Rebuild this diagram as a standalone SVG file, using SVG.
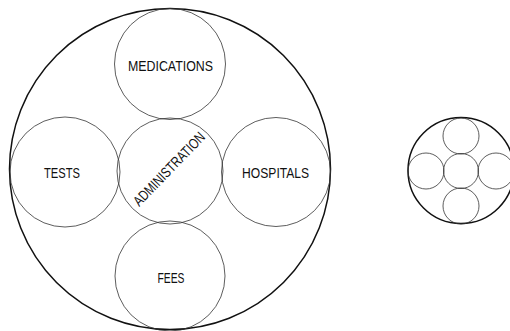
<svg xmlns="http://www.w3.org/2000/svg" width="510" height="331" viewBox="0 0 510 331">
<style>
.outer{fill:none;stroke:#111;stroke-width:1.5}
.inner{fill:none;stroke:#333;stroke-width:0.8}
.lbl{font-family:"Liberation Sans Narrow","Liberation Sans",Arial,sans-serif;font-size:14.5px;fill:#111;text-anchor:middle}
</style>
<rect width="510" height="331" fill="#fff"/>
<g id="main-diagram">
  <g id="outer"><circle class="outer" cx="170" cy="169" r="160.5"/></g>
  <g id="medications"><circle class="inner" cx="170" cy="64" r="55.5"/>
    <text class="lbl" x="170.5" y="71" textLength="85" lengthAdjust="spacingAndGlyphs">MEDICATIONS</text></g>
  <g id="tests"><circle class="inner" cx="65" cy="172" r="55"/>
    <text class="lbl" x="62" y="178.3" textLength="36" lengthAdjust="spacingAndGlyphs">TESTS</text></g>
  <g id="hospitals"><circle class="inner" cx="276" cy="172" r="54.5"/>
    <text class="lbl" x="275.6" y="178.3" textLength="67" lengthAdjust="spacingAndGlyphs">HOSPITALS</text></g>
  <g id="fees"><circle class="inner" cx="170" cy="276" r="55"/>
    <text class="lbl" x="171" y="283.3" textLength="27" lengthAdjust="spacingAndGlyphs">FEES</text></g>
  <g id="administration"><circle class="inner" cx="170" cy="171" r="53"/>
    <text class="lbl" transform="translate(169 169) rotate(-46)" x="0" y="5" font-size="13.5" textLength="96" lengthAdjust="spacingAndGlyphs">ADMINISTRATION</text></g>
</g>
<g id="small-diagram">
  <circle class="outer" cx="461" cy="170.5" r="53" stroke-width="1"/>
  <circle class="inner" cx="461" cy="136" r="18" stroke-width="1"/>
  <circle class="inner" cx="426" cy="171" r="18" stroke-width="1"/>
  <circle class="inner" cx="461" cy="171" r="17.5" stroke-width="1"/>
  <circle class="inner" cx="496" cy="171" r="18" stroke-width="1"/>
  <circle class="inner" cx="461" cy="206" r="18" stroke-width="1"/>
</g>
<g id="connectors"/>
</svg>
